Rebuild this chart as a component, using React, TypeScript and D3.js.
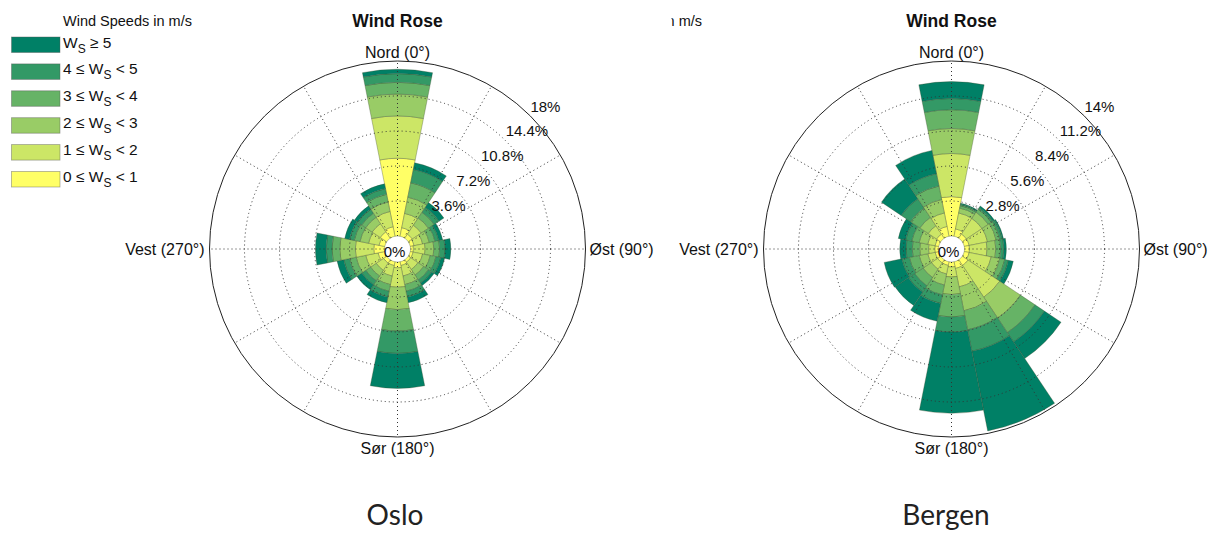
import React from 'react';
import * as d3 from 'd3';

// ---------- data ----------
const directions = ['N', 'NNE', 'NE', 'ENE', 'E', 'ESE', 'SE', 'SSE', 'S', 'SSW', 'SW', 'WSW', 'W', 'WNW', 'NW', 'NNW'];
const speedLower = [0, 1, 2, 3, 4, 5];

// frequency (%) per speed bin, per direction (N..NNW)
const osloBin0 = [8.0, 0.9, 0.5, 0.4, 0.3, 0.3, 0.3, 0.4, 0.6, 0.4, 0.4, 0.7, 1.1, 0.6, 0.8, 1.0];
const osloBin1 = [4.35, 1.5, 1.1, 0.9, 1.2, 1.0, 0.9, 1.1, 2.0, 1.1, 0.9, 1.3, 1.9, 1.1, 1.0, 1.6];
const osloBin2 = [2.25, 1.7, 0.9, 0.7, 0.9, 0.8, 0.7, 0.9, 2.3, 0.9, 0.7, 1.0, 1.6, 0.9, 0.8, 1.0];
const osloBin3 = [1.2, 1.5, 0.7, 0.6, 0.6, 0.6, 0.6, 0.7, 2.2, 0.7, 0.6, 0.7, 0.8, 0.6, 0.5, 0.8];
const osloBin4 = [0.9, 1.4, 0.6, 0.4, 0.55, 0.5, 0.4, 0.6, 2.3, 0.6, 0.5, 0.6, 0.6, 0.5, 0.5, 0.6];
const osloBin5 = [0.45, 0.7, 0.6, 0.4, 0.6, 0.4, 0.3, 0.6, 3.6, 0.6, 0.6, 0.7, 1.1, 0.5, 0.4, 0.5];

const bergenBin0 = [3.15, 0.6, 0.4, 0.4, 0.4, 0.4, 0.55, 0.55, 0.4, 0.3, 0.3, 0.3, 0.3, 0.3, 0.4, 0.8];
const bergenBin1 = [3.45, 1.3, 1.5, 1.5, 1.4, 1.8, 3.05, 1.5, 0.8, 0.7, 0.6, 0.6, 0.5, 0.6, 0.8, 1.1];
const bergenBin2 = [2.0, 0.4, 0.6, 0.7, 0.7, 0.7, 2.0, 1.95, 1.4, 0.9, 0.8, 0.7, 0.7, 0.7, 0.8, 1.1];
const bergenBin3 = [1.5, 0.2, 0.3, 0.3, 0.4, 0.4, 1.4, 1.55, 1.8, 0.8, 0.8, 0.8, 0.6, 0.6, 0.9, 1.1];
const bergenBin4 = [0.9, 0.1, 0.15, 0.2, 0.25, 0.3, 0.9, 1.75, 1.2, 0.7, 0.6, 0.6, 0.5, 0.5, 0.9, 1.0];
const bergenBin5 = [1.35, 0.1, 0.15, 0.1, 0.2, 0.4, 1.6, 6.5, 6.5, 1.45, 1.3, 1.45, 0.5, 0.6, 1.9, 1.9];

const osloTicks = [3.6, 7.2, 10.8, 14.4, 18];
const bergenTicks = [2.8, 5.6, 8.4, 11.2, 14];

const compassLabels = ['Nord (0°)', 'Øst (90°)', 'Sør (180°)', 'Vest (270°)'];
const chartTitle = 'Wind Rose';
const legendTitle = 'Wind Speeds in m/s';

// ---------- styles ----------
const binColors = ['#FFFF66', '#CCE666', '#99CC66', '#66B366', '#339966', '#008066'];
const FONT = "'Liberation Sans', Arial, Helvetica, sans-serif";
const R = 188;
const R0 = 13;

type RoseProps = { cx: number; cy: number; bins: number[][]; ticks: number[] };

function Rose({ cx, cy, bins, ticks }: RoseProps) {
  const max = ticks[ticks.length - 1];
  const r = d3.scaleLinear().domain([0, max]).range([R0, R]);
  const step = (2 * Math.PI) / directions.length;
  const arc = d3.arc<any>();
  const segs: { path: string; color: string; key: string }[] = [];
  directions.forEach((d, j) => {
    let acc = 0;
    bins.forEach((b, i) => {
      const lo = acc;
      acc += b[j];
      const path = arc({
        innerRadius: r(lo),
        outerRadius: r(acc),
        startAngle: j * step - step / 2,
        endAngle: j * step + step / 2,
      }) as string;
      segs.push({ path, color: binColors[i], key: `${d}-${i}` });
    });
  });
  const spokes = d3.range(0, 360, 30);
  const s45 = Math.SQRT1_2;
  return (
    <g>
      <g transform={`translate(${cx},${cy})`}>
        {segs.map((s) => (
          <path key={s.key} d={s.path} fill={s.color} stroke="#3a4a2a" strokeOpacity={0.55} strokeWidth={0.6} />
        ))}
        {ticks.slice(0, -1).map((t) => (
          <circle key={t} r={r(t)} fill="none" stroke="#333" strokeWidth={1} strokeDasharray="1 3" />
        ))}
        {spokes.map((a) => {
          const rad = (a * Math.PI) / 180;
          return (
            <line
              key={a}
              x1={R0 * Math.sin(rad)}
              y1={-R0 * Math.cos(rad)}
              x2={R * Math.sin(rad)}
              y2={-R * Math.cos(rad)}
              stroke="#333"
              strokeWidth={1}
              strokeDasharray="1 3"
            />
          );
        })}
        <circle r={R} fill="none" stroke="#222" strokeWidth={1} />
        <circle r={R0 - 1} fill="#fff" />
        <text x={-3} y={8} fontSize={15} textAnchor="middle" fill="#111" fontFamily={FONT}>0%</text>
        {ticks.map((t) => (
          <text key={t} x={r(t) * s45} y={-r(t) * s45 - 4.5} fontSize={15} fill="#111" fontFamily={FONT}>
            {`${t}%`}
          </text>
        ))}
        <text x={0} y={-R - 3.5} fontSize={16} textAnchor="middle" fill="#111" fontFamily={FONT}>{compassLabels[0]}</text>
        <text x={R + 4} y={5.5} fontSize={16} textAnchor="start" fill="#111" fontFamily={FONT}>{compassLabels[1]}</text>
        <text x={0} y={R + 16.5} fontSize={16} textAnchor="middle" fill="#111" fontFamily={FONT}>{compassLabels[2]}</text>
        <text x={-R - 5} y={5.5} fontSize={16} textAnchor="end" fill="#111" fontFamily={FONT}>{compassLabels[3]}</text>
      </g>
      <text x={cx} y={27} fontSize={17.5} fontWeight="bold" textAnchor="middle" fill="#111" fontFamily={FONT}>
        {chartTitle}
      </text>
    </g>
  );
}

function Legend() {
  const rows = [...speedLower].reverse();
  return (
    <g fontFamily={FONT} fill="#111">
      <text x={63} y={26} fontSize={14.5}>{legendTitle}</text>
      {rows.map((lo, k) => {
        const y = 37 + k * 26.9;
        const idx = speedLower.indexOf(lo);
        const last = idx === speedLower.length - 1;
        return (
          <g key={lo}>
            <rect x={11.5} y={y} width={48.5} height={15.5} fill={binColors[idx]} stroke="#555" strokeOpacity={0.5} strokeWidth={0.8} />
            <text x={63} y={y + 10.5} fontSize={15.5}>
              {last ? (
                <>
                  <tspan>W</tspan>
                  <tspan dy={5} fontSize={12}>S</tspan>
                  <tspan dy={-5}>{` ≥ ${lo}`}</tspan>
                </>
              ) : (
                <>
                  <tspan>{`${lo} ≤ W`}</tspan>
                  <tspan dy={5} fontSize={12}>S</tspan>
                  <tspan dy={-5}>{` < ${speedLower[idx + 1]}`}</tspan>
                </>
              )}
            </text>
          </g>
        );
      })}
    </g>
  );
}

export default function App() {
  const osloBins = [osloBin0, osloBin1, osloBin2, osloBin3, osloBin4, osloBin5];
  const bergenBins = [bergenBin0, bergenBin1, bergenBin2, bergenBin3, bergenBin4, bergenBin5];
  return (
    <svg
      width={1215}
      height={534}
      viewBox="0 0 1215 534"
      style={{ position: 'absolute', left: 0, top: 0, background: '#fff' }}
    >
      <rect width={1215} height={534} fill="#fff" />
      <Legend />
      <defs>
        <clipPath id="bergenLegendClip">
          <rect x={671.5} y={0} width={60} height={40} />
        </clipPath>
      </defs>
      <text x={702} y={26} fontSize={14.5} textAnchor="end" fill="#111" fontFamily={FONT} clipPath="url(#bergenLegendClip)">
        {legendTitle}
      </text>
      <Rose cx={397.5} cy={249} bins={osloBins} ticks={osloTicks} />
      <Rose cx={951.5} cy={249} bins={bergenBins} ticks={bergenTicks} />
      <text x={395} y={525} fontSize={28} textAnchor="middle" fill="#222" fontFamily="Lato, 'Open Sans', sans-serif">Oslo</text>
      <text x={946} y={525} fontSize={28} textAnchor="middle" fill="#222" fontFamily="Lato, 'Open Sans', sans-serif">Bergen</text>
    </svg>
  );
}
